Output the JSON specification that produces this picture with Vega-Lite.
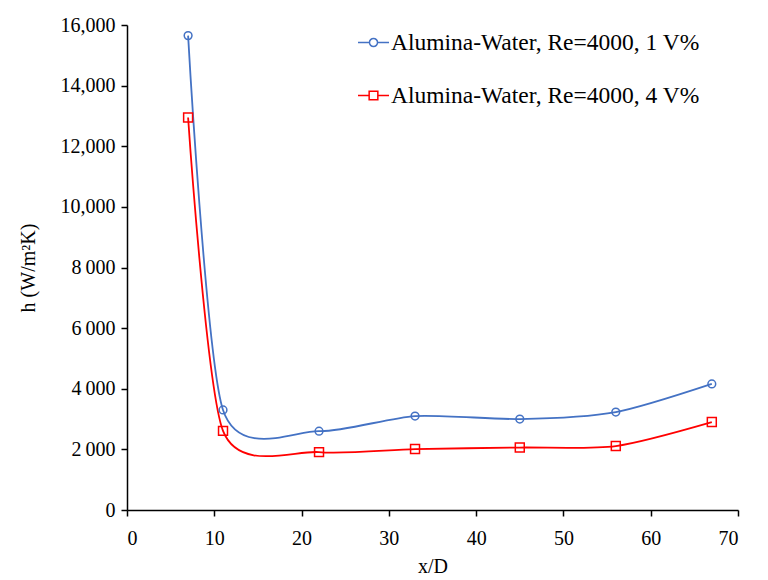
{
  "$schema": "https://vega.github.io/schema/vega-lite/v6.json",
  "width": 611,
  "height": 485,
  "autosize": "none",
  "padding": {"left": 127, "top": 25, "right": 30, "bottom": 70},
  "background": "white",
  "config": {
    "font": "Liberation Serif",
    "view": {"stroke": null},
    "axis": {
      "domainColor": "black", "tickColor": "black", "domainWidth": 1.5, "tickWidth": 1.5,
      "tickSize": 6, "labelColor": "black", "titleColor": "black",
      "labelFont": "Liberation Serif", "titleFont": "Liberation Serif",
      "labelFontSize": 20, "titleFontSize": 20, "titleFontWeight": "normal", "grid": false
    }
  },
  "data": {
    "values": [
      {"xd": 7, "h": 15650, "series": "Alumina-Water, Re=4000, 1 V%"},
      {"xd": 11, "h": 3300, "series": "Alumina-Water, Re=4000, 1 V%"},
      {"xd": 22, "h": 2600, "series": "Alumina-Water, Re=4000, 1 V%"},
      {"xd": 33, "h": 3100, "series": "Alumina-Water, Re=4000, 1 V%"},
      {"xd": 45, "h": 3000, "series": "Alumina-Water, Re=4000, 1 V%"},
      {"xd": 56, "h": 3230, "series": "Alumina-Water, Re=4000, 1 V%"},
      {"xd": 67, "h": 4160, "series": "Alumina-Water, Re=4000, 1 V%"},
      {"xd": 7, "h": 12950, "series": "Alumina-Water, Re=4000, 4 V%"},
      {"xd": 11, "h": 2610, "series": "Alumina-Water, Re=4000, 4 V%"},
      {"xd": 22, "h": 1910, "series": "Alumina-Water, Re=4000, 4 V%"},
      {"xd": 33, "h": 2010, "series": "Alumina-Water, Re=4000, 4 V%"},
      {"xd": 45, "h": 2060, "series": "Alumina-Water, Re=4000, 4 V%"},
      {"xd": 56, "h": 2110, "series": "Alumina-Water, Re=4000, 4 V%"},
      {"xd": 67, "h": 2900, "series": "Alumina-Water, Re=4000, 4 V%"}
    ]
  },
  "encoding": {
    "x": {
      "field": "xd", "type": "quantitative",
      "scale": {"domain": [0, 70], "nice": false, "zero": true},
      "axis": {"values": [0, 10, 20, 30, 40, 50, 60, 70], "title": "x/D", "titlePadding": 8, "labelPadding": 12}
    },
    "y": {
      "field": "h", "type": "quantitative",
      "scale": {"domain": [0, 16000], "nice": false},
      "axis": {
        "values": [0, 2000, 4000, 6000, 8000, 10000, 12000, 14000, 16000],
        "labelExpr": "datum.value >= 10000 ? format(datum.value, ',') : (datum.value >= 1000 ? substring(format(datum.value, 'd'), 0, 1) + '\u2009' + substring(format(datum.value, 'd'), 1) : format(datum.value, 'd'))",
        "title": "h (W/m²K)", "titlePadding": 22, "labelPadding": 6
      }
    },
    "color": {
      "field": "series", "type": "nominal",
      "scale": {"domain": ["Alumina-Water, Re=4000, 1 V%", "Alumina-Water, Re=4000, 4 V%"], "range": ["#4472C4", "#FF0000"]}
    }
  },
  "layer": [
    {
      "mark": {"type": "line", "interpolate": "cardinal", "tension": 0.25, "strokeWidth": 1.8},
      "encoding": {
        "color": {
          "field": "series", "type": "nominal",
          "legend": {
            "orient": "none", "legendX": 230, "legendY": 1, "title": null,
            "direction": "vertical",
            "labelFontSize": 23.5, "labelFont": "Liberation Serif", "labelColor": "black", "labelLimit": 0,
            "symbolSize": 961, "rowPadding": 25, "labelOffset": 1,
            "symbolStrokeWidth": 1.5,
            "encode": {
              "symbols": {
                "update": {
                  "shape": {"signal": "indexof(datum.value, '1 V%') >= 0 ? 'M-1,0H-0.26M0.26,0H1M-0.26,0A0.26,0.26,0,1,0,0.26,0A0.26,0.26,0,1,0,-0.26,0' : 'M-1,0H-0.28M0.28,0H1M-0.28,-0.28H0.28V0.28H-0.28Z'"},
                  "fill": {"value": "transparent"},
                  "strokeWidth": {"value": 1.5}
                }
              }
            }
          }
        }
      }
    },
    {
      "mark": {"type": "point", "filled": false, "strokeWidth": 1.5, "opacity": 1},
      "encoding": {
        "shape": {
          "field": "series", "type": "nominal", "legend": null,
          "scale": {"range": ["circle", "square"]}
        },
        "size": {
          "field": "series", "type": "nominal", "legend": null,
          "scale": {"range": [60, 80]}
        }
      }
    }
  ]
}
